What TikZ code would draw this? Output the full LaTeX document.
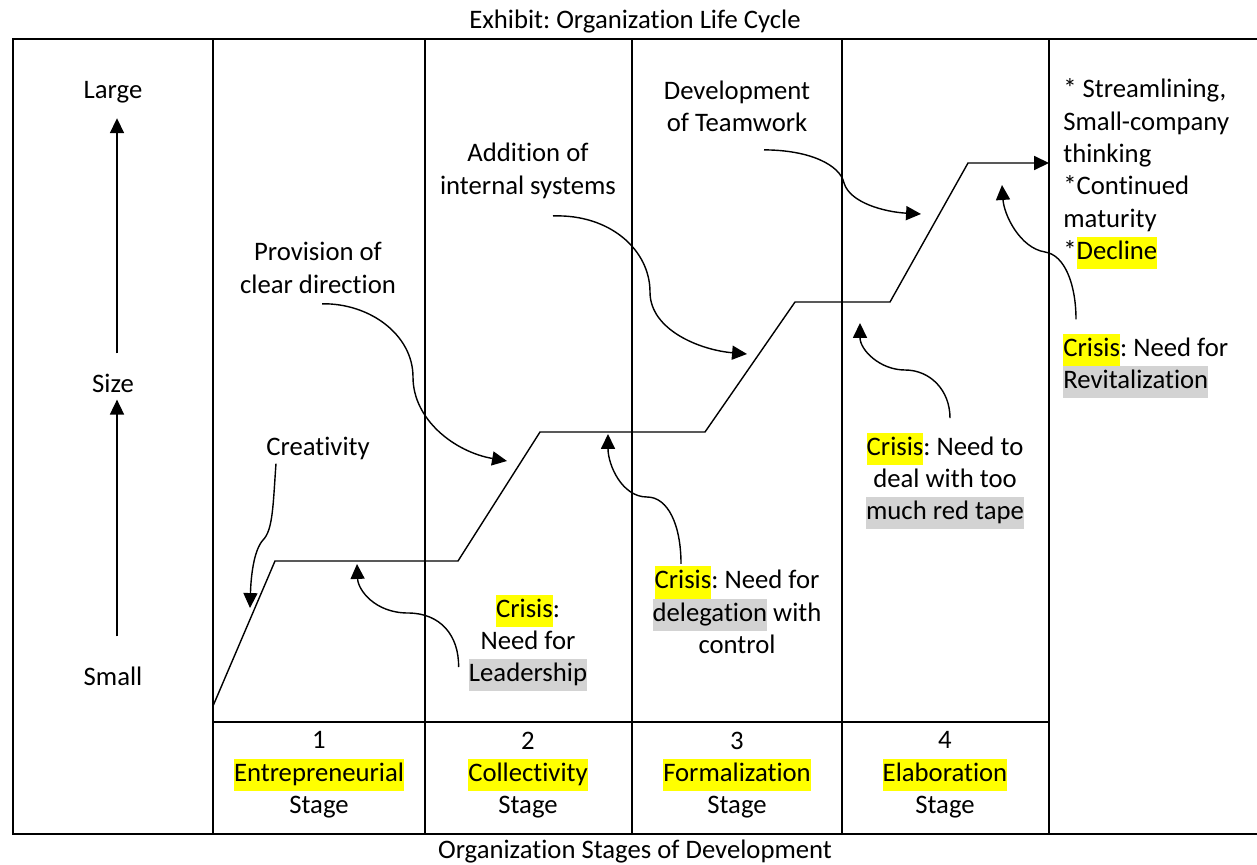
\documentclass[tikz,border=0pt]{standalone}
\usepackage{fontspec}
\setmainfont{Carlito}[Ligatures=NoCommon]
\frenchspacing
\usetikzlibrary{arrows.meta}
\definecolor{hlyellow}{HTML}{FFFF00}
\definecolor{hlgray}{HTML}{D3D3D3}
\newcommand{\hly}[1]{{\setlength{\fboxsep}{0pt}\colorbox{hlyellow}{\strut #1}}}
\newcommand{\hlg}[1]{{\setlength{\fboxsep}{0pt}\colorbox{hlgray}{\strut #1}}}

\begin{document}
\begin{tikzpicture}[>={Triangle[length=8.5pt,width=8pt]}, x=0.02cm, y=-0.02cm]
\tikzset{
txt/.style={
  font=\fontsize{15.2}{18.4}\selectfont,
  align=center,
  inner sep=0pt
  },
grid/.style={line width=1.1pt},
growth/.style={line width=0.8pt, line join=miter},
push/.style={line width=0.8pt, ->}
}
\useasboundingbox (0,0) rectangle (1257,865);

% frame and stage columns
\draw[grid] (1257,39) -- (13,39) -- (13,834) -- (1257,834);
\foreach \xx in {213,425,632,842,1049}
  \draw[grid] (\xx,39) -- (\xx,834);
\draw[grid] (213,722) -- (1049,722);

\node[txt] (title)  at (635,22)  {Exhibit: Organization Life Cycle};
\node[txt] (bottom) at (635,852) {Organization Stages of Development};

\node[txt] (large) at (113,92)  {Large};
\node[txt] (size)  at (113,383) {Size};
\node[txt] (small) at (113,676) {Small};

\node[txt] (st1) at (319,775) {1\\\hly{Entrepreneurial}\\Stage};
\node[txt] (st2) at (528,775) {2\\\hly{Collectivity}\\Stage};
\node[txt] (st3) at (737,775) {3\\\hly{Formalization}\\Stage};
\node[txt] (st4) at (945,775) {4\\\hly{Elaboration}\\Stage};

\node[txt] (creat)  at (318,448) {Creativity};
\node[txt] (prov)   at (318,268) {Provision of\\clear direction};
\node[txt] (addsys) at (528,171) {Addition of\\internal systems};
\node[txt] (team)   at (737,106) {Development\\of Teamwork};

\node[txt] (crisis1) at (528,643) {\hly{Crisis}:\\Need for\\\hlg{Leadership}};
\node[txt] (crisis2) at (737,610) {\hly{Crisis}: Need for\\\hlg{delegation} with\\control};
\node[txt] (crisis3) at (945,481) {\hly{Crisis}: Need to\\deal with too\\\hlg{much red tape}};
\node[txt, align=left, anchor=west] (crisis4) at (1063,366) {\hly{Crisis}: Need for\\\hlg{Revitalization}};
\node[txt, align=left, anchor=west] (outcome) at (1063,174)
  {* Streamlining,\\Small-company\\thinking\\*Continued\\maturity\\*\hly{Decline}};

% size axis
\draw[push] ([xshift=0.08cm,yshift=0.6cm]small.north) -- ([xshift=0.08cm,yshift=-0.14cm]size.south);
\draw[push] ([xshift=0.08cm,yshift=0.4cm]size.north) -- ([xshift=0.08cm,yshift=-0.3cm]large.south);

% growth line
\draw[growth, ->] (213,706) -- (275,561) -- (458,561) -- (540,432) -- (705,432)
  -- (795,302) -- (890,302) -- (968,163) -- (1049,163);

\coordinate (tcreat) at (250,608);
\coordinate (tprov)  at (507,461);
\coordinate (tadd)   at (747,354);
\coordinate (tteam)  at (921,214);
\coordinate (tlead)  at (357,564);
\coordinate (tdeleg) at (608,434);
\coordinate (ttape)  at (860,323);
\coordinate (trev)   at (1002,185);

\draw[push] ([xshift=0.2cm,yshift=-0.08cm]creat.south west)
  .. controls (273,505) and (273,530) .. (263,540)
  .. controls (254,550) and (251,575) .. (tcreat);
\draw[push] ([xshift=0.08cm,yshift=-0.2cm]prov.south)
  .. controls (370,303) and (413,335) .. (413,377)
  .. controls (413,420) and (455,452) .. (tprov);
\draw[push] ([xshift=0.5cm,yshift=-0.34cm]addsys.south)
  .. controls (610,214) and (650,250) .. (650,292)
  .. controls (650,330) and (700,350) .. (tadd);
\draw[push] ([xshift=0.54cm,yshift=-0.36cm]team.south)
  .. controls (810,150) and (840,165) .. (844,183)
  .. controls (850,203) and (885,212) .. (tteam);

\draw[push] ([xshift=-0.2cm,yshift=-0.48cm]crisis1.west)
  .. controls (459,635) and (440,613) .. (408,613)
  .. controls (375,613) and (358,590) .. (tlead);
\draw[push] ([xshift=-1.12cm,yshift=0.04cm]crisis2.north)
  .. controls (681,525) and (668,497) .. (647,497)
  .. controls (622,497) and (608,465) .. (tdeleg);
\draw[push] ([xshift=0.1cm,yshift=0.28cm]crisis3.north)
  .. controls (950,390) and (930,370) .. (905,370)
  .. controls (880,370) and (860,350) .. (ttape);
\draw[push] ([xshift=0.26cm,yshift=0.28cm]crisis4.north west)
  .. controls (1076,285) and (1065,255) .. (1045,252)
  .. controls (1020,248) and (1004,215) .. (trev);

\end{tikzpicture}
\end{document}
